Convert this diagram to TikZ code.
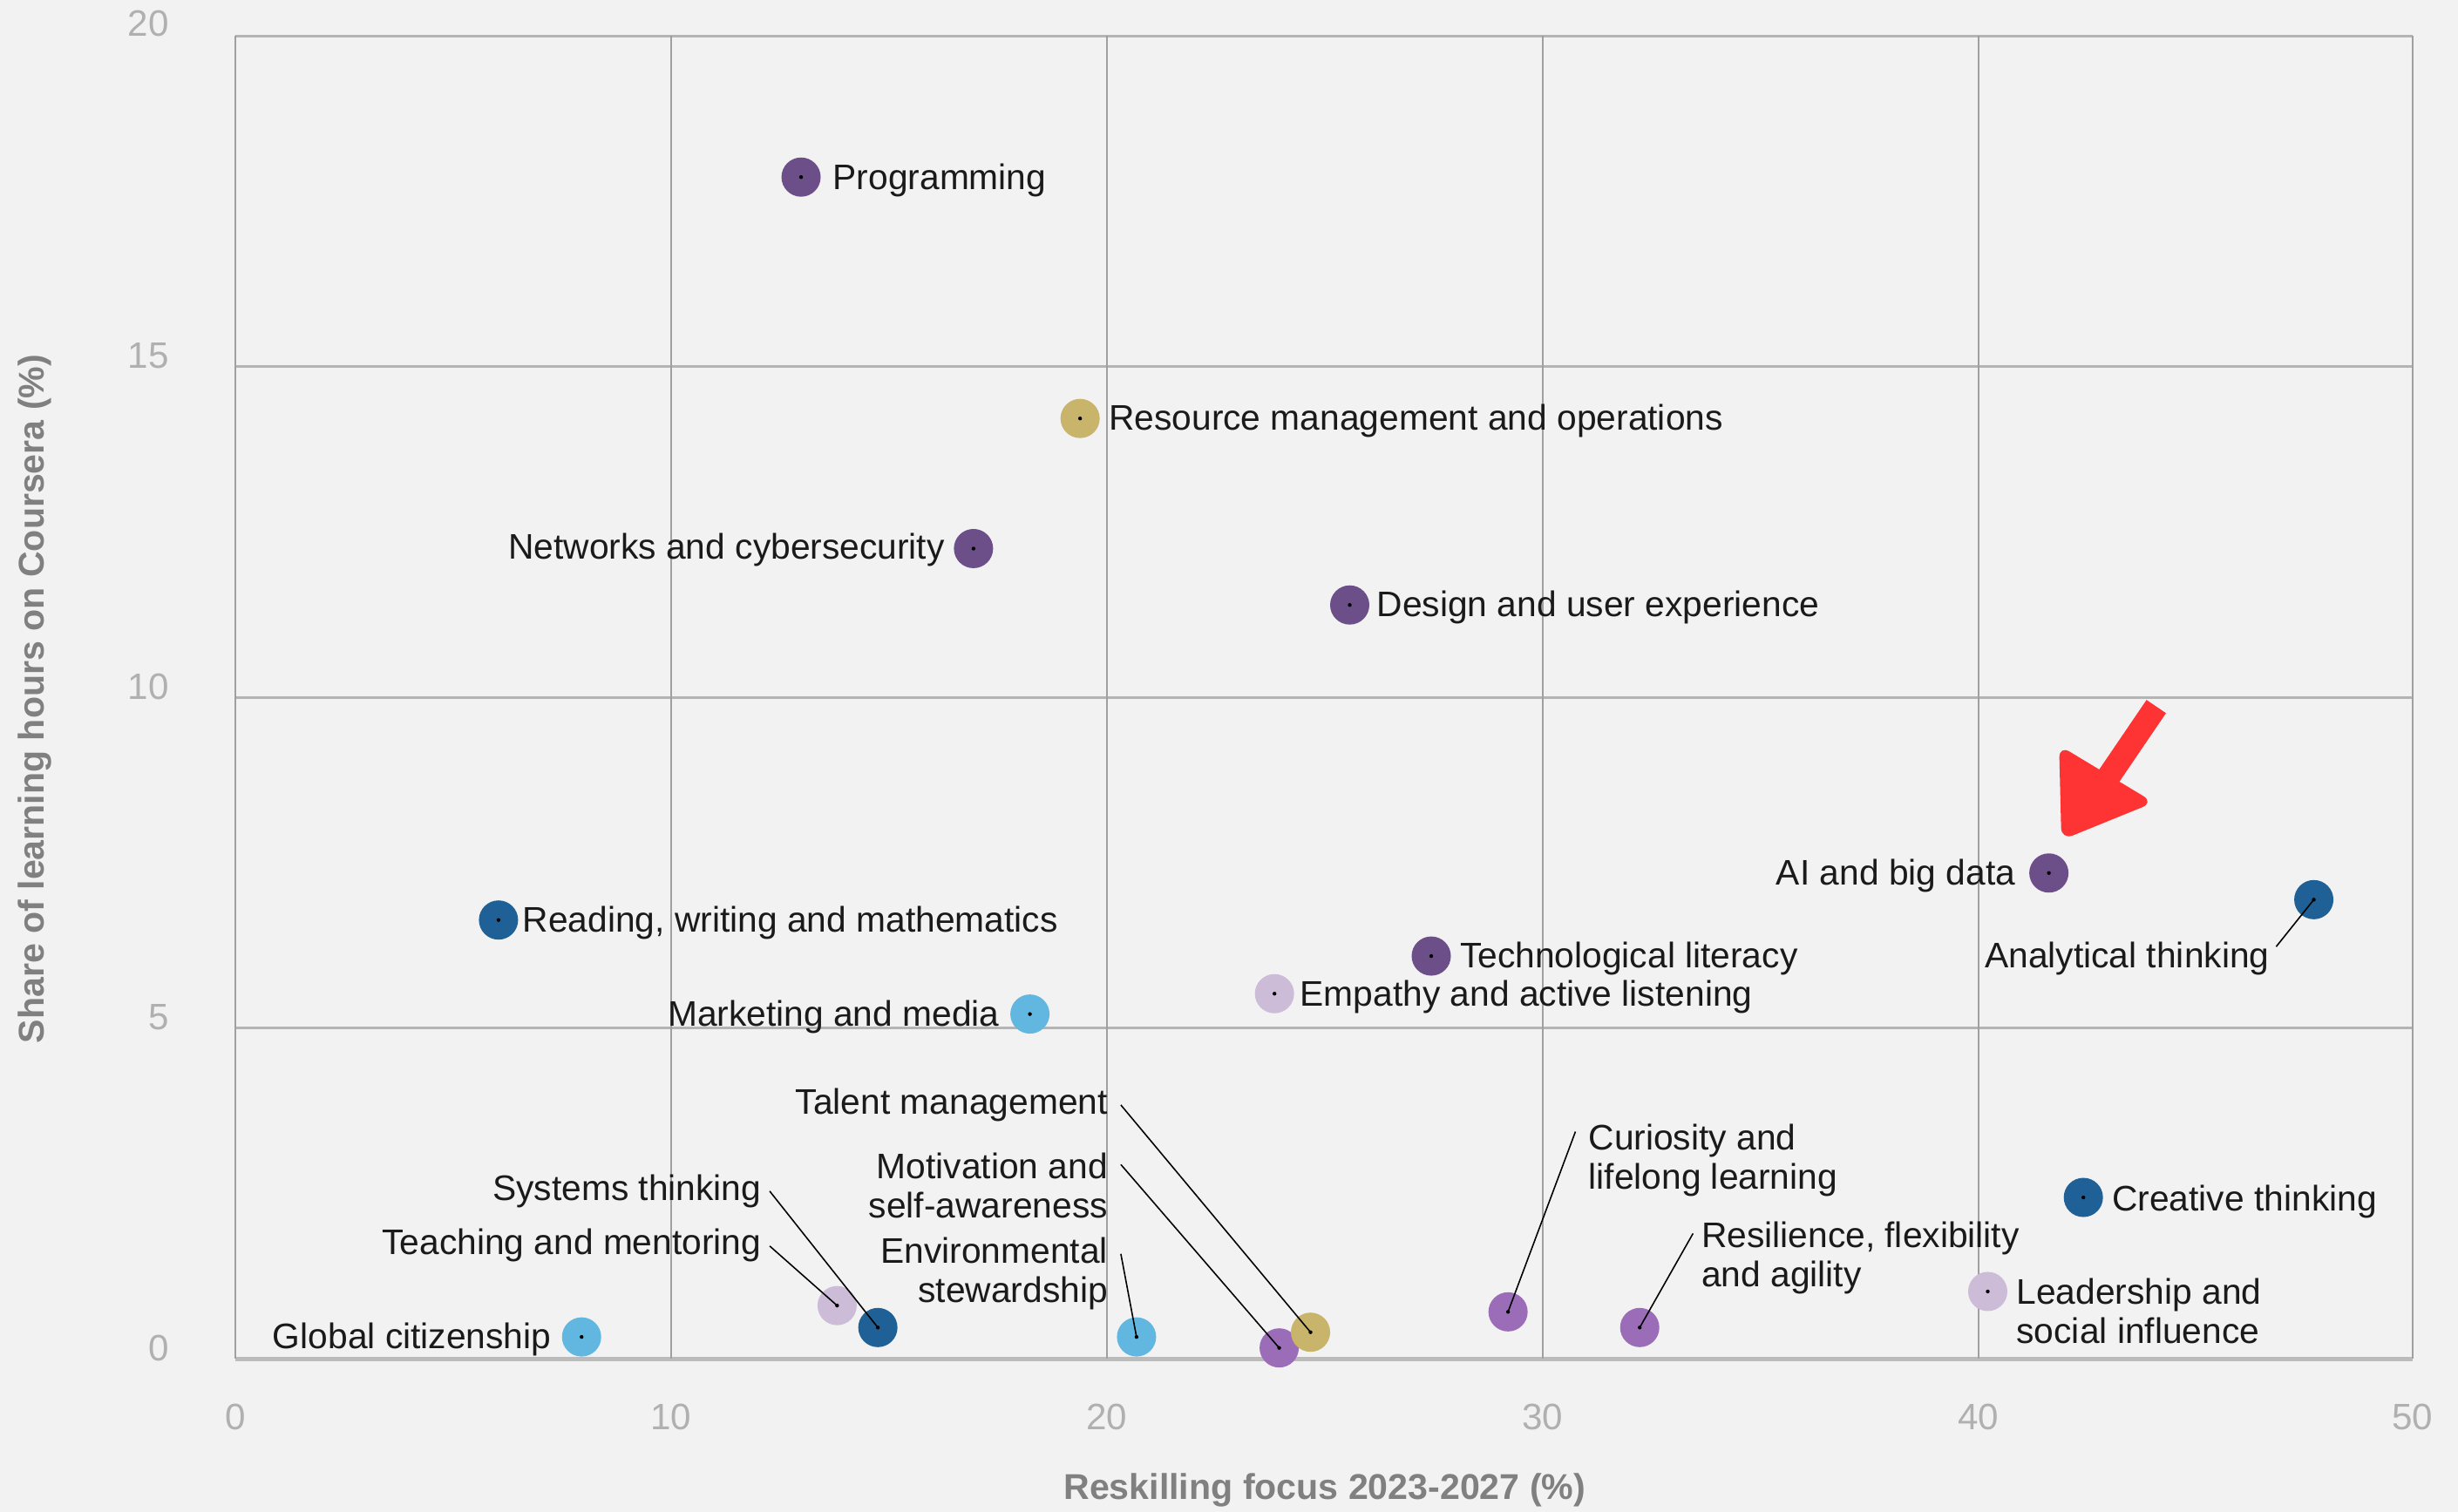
\documentclass[tikz,border=0pt]{standalone}
\usepackage{fontspec}
\setmainfont{Liberation Sans}
\definecolor{bgcol}{RGB}{241,242,241}
\definecolor{gridv}{RGB}{160,160,160}
\definecolor{gridh}{RGB}{180,180,180}
\definecolor{tickcol}{RGB}{176,176,176}
\definecolor{titlecol}{RGB}{128,128,128}
\definecolor{labcol}{RGB}{26,26,26}
\definecolor{dpurple}{RGB}{108,78,136}
\definecolor{mpurple}{RGB}{155,108,184}
\definecolor{lavender}{RGB}{205,188,216}
\definecolor{dblue}{RGB}{31,97,150}
\definecolor{lblue}{RGB}{98,183,224}
\definecolor{khaki}{RGB}{200,180,107}
\definecolor{redarrow}{RGB}{254,51,51}
\newcommand\labfont{\fontsize{11.6}{12.8}\selectfont}
\newcommand\skilldot[4]{\node[dotnode,fill=#2] (#1) at (#3,#4) {};\fill[black] (#1.center) circle (0.022cm);}
\begin{document}
\begin{tikzpicture}[x=0.017985cm,y=-0.017985cm,
  dotnode/.style={circle,minimum size=0.45cm,inner sep=0pt,draw=none},
  lab/.style={inner sep=0pt,font=\labfont,text=labcol,yshift=-0.045cm},
  leader/.style={draw=black,line width=0.45pt},
  tick/.style={inner sep=0pt,font=\fontsize{12}{14}\selectfont,text=tickcol},
  axtitle/.style={inner sep=0pt,font=\fontsize{11.7}{14}\selectfont\bfseries,text=titlecol}]
\fill[bgcol] (0,0) rectangle (1568,964.7);
\useasboundingbox (0,0) rectangle (1568,964.7);
% grid
\foreach \yy in {23,234,445,656} \draw[gridh,line width=0.8pt] (150,\yy) -- (1539,\yy);
\draw[gridh!90!white,line width=1.3pt] (150,867) -- (1539,867);
\foreach \xx in {150,428,706,984,1262,1539} \draw[gridv,line width=0.5pt] (\xx,23) -- (\xx,867);
% tick labels
\foreach \xx/\t in {150/0,428/10,706/20,984/30,1262/40,1539/50} \node[tick] (xt\t) at (\xx,904) {\t};
\foreach \yy/\t in {15/20,227/15,438/10,649/5,860/0} \node[tick,anchor=east] (yt\t) at (108,\yy) {\t};
\node[axtitle] (xtitle) at (845,951) {Reskilling focus 2023-2027 (\%)};
\node[axtitle,rotate=90] (ytitle) at (22,446) {Share of learning hours on Coursera (\%)};
% dots
\skilldot{prog}{dpurple}{511}{113}
\skilldot{res}{khaki}{689}{267}
\skilldot{net}{dpurple}{621}{350}
\skilldot{des}{dpurple}{861}{386}
\skilldot{ai}{dpurple}{1307}{557}
\skilldot{ana}{dblue}{1476}{574}
\skilldot{read}{dblue}{318}{587}
\skilldot{tech}{dpurple}{913}{610}
\skilldot{emp}{lavender}{813}{634}
\skilldot{mkt}{lblue}{657}{647}
\skilldot{cre}{dblue}{1329}{764}
\skilldot{lead}{lavender}{1268}{824}
\skilldot{cur}{mpurple}{962}{837}
\skilldot{resil}{mpurple}{1046}{847}
\skilldot{glob}{lblue}{371}{853}
\skilldot{teach}{lavender}{534}{833}
\skilldot{sys}{dblue}{560}{847}
\skilldot{env}{lblue}{725}{853}
\skilldot{mot}{mpurple}{816}{860}
\skilldot{tal}{khaki}{836}{850}
% labels
\node[lab,anchor=mid west] (lprog) at (531,113) {Programming};
\node[lab,anchor=mid west] (lres) at (707,267) {Resource management and operations};
\node[lab,anchor=mid east] (lnet) at (603,349) {Networks and cybersecurity};
\node[lab,anchor=mid west] (ldes) at (878,386) {Design and user experience};
\node[lab,anchor=mid east] (lai) at (1286,557) {AI and big data};
\node[lab,anchor=mid east] (lana) at (1448,610) {Analytical thinking};
\node[lab,anchor=mid west] (lread) at (333,587) {Reading, writing and mathematics};
\node[lab,anchor=mid west] (ltech) at (931,610) {Technological literacy};
\node[lab,anchor=mid west] (lemp) at (829,634) {Empathy and active listening};
\node[lab,anchor=mid east] (lmkt) at (638,647) {Marketing and media};
\node[lab,anchor=mid west] (lcre) at (1347,765) {Creative thinking};
\node[lab,anchor=west,align=left] (llead) at (1286,834) {Leadership and\\social influence};
\node[lab,anchor=west,align=left] (lcur) at (1013,738) {Curiosity and\\lifelong learning};
\node[lab,anchor=west,align=left] (lresil) at (1085,800) {Resilience, flexibility\\and agility};
\node[lab,anchor=mid east] (lglob) at (352,853) {Global citizenship};
\node[lab,anchor=mid east] (lsys) at (486,758) {Systems thinking};
\node[lab,anchor=mid east] (lteach) at (486,793) {Teaching and mentoring};
\node[lab,anchor=east,align=right] (lenv) at (707,810) {Environmental\\stewardship};
\node[lab,anchor=east,align=right] (lmot) at (707,754) {Motivation and\\self-awareness};
\node[lab,anchor=mid east] (ltal) at (707,703) {Talent management};
% leader lines
\coordinate (cana) at (1452,604);
\coordinate (ccur) at (1005,722);
\coordinate (cresil) at (1080,787);
\coordinate (csys) at (491,760);
\coordinate (cteach) at (491,795);
\coordinate (cenv) at (715,800);
\coordinate (cmot) at (715,743);
\coordinate (ctal) at (715,705);
\draw[leader] (cana) -- (ana.center);
\draw[leader] (ccur) -- (cur.center);
\draw[leader] (cresil) -- (resil.center);
\draw[leader] (csys) -- (sys.center);
\draw[leader] (cteach) -- (teach.center);
\draw[leader] (cenv) -- (env.center);
\draw[leader] (cmot) -- (mot.center);
\draw[leader] (ctal) -- (tal.center);
% red arrow
\coordinate (ra1) at (1375.5,450.8);
\coordinate (ra2) at (1340,503);
\draw[redarrow,line width=0.27cm] (ra1) -- (ra2);
\fill[redarrow,rounded corners=4pt] (1313.5,475.5) -- (1374,512) -- (1315,536) -- cycle;
\end{tikzpicture}
\end{document}
